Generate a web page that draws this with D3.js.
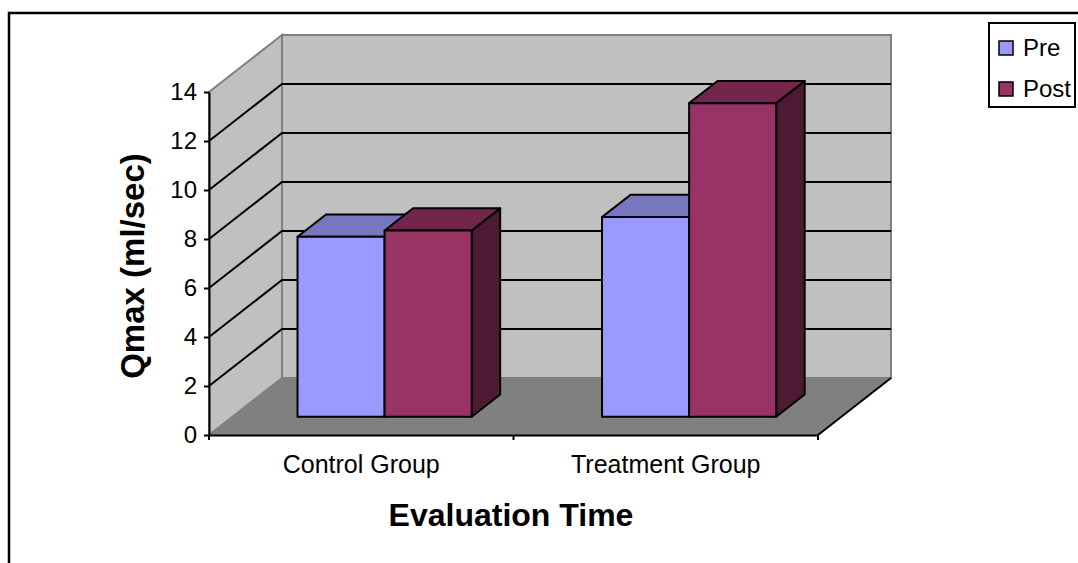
<!DOCTYPE html>
<html>
<head>
<meta charset="utf-8">
<script src="https://cdn.jsdelivr.net/npm/d3@7"></script>
<style>
  html, body { margin: 0; padding: 0; background: #fff; }
  svg { display: block; font-family: "Liberation Sans", Arial, sans-serif; }
</style>
</head>
<body>
<svg id="chart" width="1078" height="563"></svg>
<script>
// Qmax by group, before and after
const categories = ["Control Group", "Treatment Group"];
const seriesNames = ["Pre", "Post"];
const preValues = [7.35, 8.15];
const postValues = [7.6, 12.8];
const yTicks = [0, 2, 4, 6, 8, 10, 12, 14];

const seriesValues = [preValues, postValues];
const colors = {
  Pre:  { front: "#9999ff", top: "#7777bf", side: "#4d4d80" },
  Post: { front: "#993366", top: "#72264c", side: "#4c1a33" }
};

const svg = d3.select("#chart");

// Front plane of the 3D box and its depth offset
const x0Left = 209, x0Right = 818;
const depthDX = 73, depthDY = -57;

const y = d3.scaleLinear().domain([0, 14]).range([435, 92]);
const x0 = d3.scaleBand().domain(categories).range([x0Left, x0Right]);
const bw = x0.bandwidth();
const x1 = d3.scaleBand().domain(seriesNames).range([bw * 0.214, bw * 0.786]);

// project a point (front-plane x, value, depth 0..1) to screen
const P = (x, v, z) => [x + z * depthDX, y(v) + z * depthDY];
const poly = pts => "M" + pts.map(p => p.join(",")).join("L") + "Z";

const walls = svg.append("g");
const vmax = 14;

// back wall
walls.append("path")
  .attr("d", poly([P(x0Left, 0, 1), P(x0Left, vmax, 1), P(x0Right, vmax, 1), P(x0Right, 0, 1)]))
  .attr("fill", "#c0c0c0").attr("stroke", "#808080").attr("stroke-width", 2);
// side wall
walls.append("path")
  .attr("d", poly([P(x0Left, 0, 0), P(x0Left, vmax, 0), P(x0Left, vmax, 1), P(x0Left, 0, 1)]))
  .attr("fill", "#c0c0c0").attr("stroke", "#808080").attr("stroke-width", 2);
// floor
walls.append("path")
  .attr("d", poly([P(x0Left, 0, 0), P(x0Left, 0, 1), P(x0Right, 0, 1), P(x0Right, 0, 0)]))
  .attr("fill", "#808080").attr("stroke", "#808080").attr("stroke-width", 1);

// gridlines on side and back walls
const gridVals = yTicks.filter(v => v > 0 && v < vmax);
const grid = svg.append("g").attr("stroke", "#000").attr("stroke-width", 2).attr("fill", "none");
gridVals.forEach(v => {
  grid.append("path").attr("d", "M" + P(x0Left, v, 0) + "L" + P(x0Left, v, 1) + "L" + P(x0Right, v, 1));
});

// floor front-right edge
svg.append("path")
  .attr("d", "M" + P(x0Right, 0, 0) + "L" + P(x0Right, 0, 1))
  .attr("stroke", "#000").attr("stroke-width", 2);

// bars
const zF = 0.32, zB = 0.71;
const bars = svg.append("g").attr("stroke", "#000").attr("stroke-width", 2).attr("stroke-linejoin", "round");
categories.forEach((cat, ci) => {
  seriesNames.forEach((s, si) => {
    const v = seriesValues[si][ci];
    const xa = x0(cat) + x1(s), xb = xa + x1.bandwidth();
    const c = colors[s];
    // right side
    bars.append("path").attr("fill", c.side)
      .attr("d", poly([P(xb, 0, zF), P(xb, v, zF), P(xb, v, zB), P(xb, 0, zB)]));
    // top
    bars.append("path").attr("fill", c.top)
      .attr("d", poly([P(xa, v, zF), P(xa, v, zB), P(xb, v, zB), P(xb, v, zF)]));
    // front
    bars.append("path").attr("fill", c.front)
      .attr("d", poly([P(xa, 0, zF), P(xa, v, zF), P(xb, v, zF), P(xb, 0, zF)]));
  });
});

// y axis
const yAxis = svg.append("g")
  .attr("transform", `translate(${x0Left},0)`)
  .call(d3.axisLeft(y).tickValues(yTicks).tickSize(5).tickPadding(7).tickSizeOuter(0));
yAxis.select(".domain").attr("stroke", "#000").attr("stroke-width", 2);
yAxis.selectAll(".tick line").attr("stroke", "#000").attr("stroke-width", 2);
yAxis.selectAll(".tick text").attr("font-size", 24).attr("fill", "#000")
  .attr("font-family", "Liberation Sans, Arial, sans-serif");

// x axis along the front floor edge
const xAxis = svg.append("g")
  .attr("transform", `translate(0,${y(0)})`)
  .call(d3.axisBottom(x0).tickSize(0).tickPadding(20).tickSizeOuter(0));
xAxis.select(".domain").attr("stroke", "#000").attr("stroke-width", 2);
xAxis.selectAll(".tick text").attr("font-size", 25).attr("fill", "#000")
  .attr("font-family", "Liberation Sans, Arial, sans-serif");
// category separators
const sepX = [x0Left, ...categories.map(c => x0(c) + bw)];
svg.append("g").selectAll("line").data(sepX).join("line")
  .attr("x1", d => d).attr("x2", d => d)
  .attr("y1", y(0)).attr("y2", y(0) + 5)
  .attr("stroke", "#000").attr("stroke-width", 2);

// axis titles
svg.append("text")
  .attr("x", 511).attr("y", 526)
  .attr("text-anchor", "middle")
  .attr("font-size", 32).attr("font-weight", "bold")
  .text("Evaluation Time");
svg.append("text")
  .attr("transform", "translate(144,266) rotate(-90)")
  .attr("text-anchor", "middle")
  .attr("font-size", 33).attr("font-weight", "bold")
  .text("Qmax (ml/sec)");

// legend
const legend = svg.append("g");
legend.append("rect")
  .attr("x", 989).attr("y", 23).attr("width", 86).attr("height", 84)
  .attr("fill", "#fff").attr("stroke", "#000").attr("stroke-width", 2);
seriesNames.forEach((s, i) => {
  legend.append("rect")
    .attr("x", 999).attr("y", 41 + i * 41).attr("width", 14).attr("height", 14)
    .attr("fill", colors[s].front).attr("stroke", "#000").attr("stroke-width", 1.5);
  legend.append("text")
    .attr("x", 1023).attr("y", 56 + i * 41)
    .attr("font-size", 24)
    .text(s);
});

// chart frame
svg.append("path")
  .attr("d", "M9,563V13H1078")
  .attr("fill", "none").attr("stroke", "#000").attr("stroke-width", 2.5);
</script>
</body>
</html>
